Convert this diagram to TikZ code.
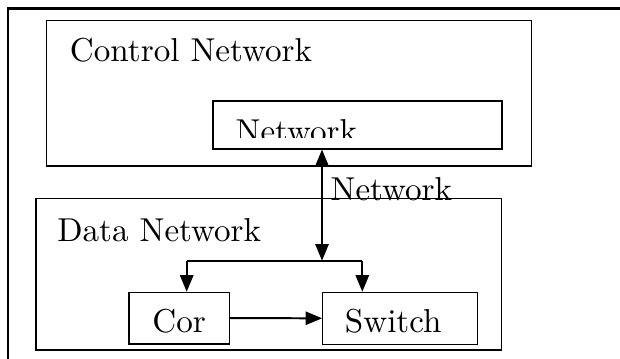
\documentclass[tikz,border=0pt]{standalone}
\usetikzlibrary{fit,arrows.meta}
\tikzset{
  box/.style={draw, line width=0.33pt, inner sep=0pt, rectangle},
  frame/.style={line width=0.8pt},
  arr/.style={line width=0.6pt, -{Triangle[length=5pt,width=4pt]}},
  biarr/.style={line width=0.6pt, {Triangle[length=5pt,width=4pt]}-{Triangle[length=5pt,width=4pt]}},
  lbl/.style={anchor=base west, inner sep=0pt},
}
\begin{document}
\begin{tikzpicture}[x=0.302pt, y=-0.302pt]
\useasboundingbox (0,0) rectangle (620,359);
% outer frame (partially visible)
\coordinate (fbl) at (8,359);
\coordinate (ftl) at (8,8.5);
\coordinate (ftr) at (620,8.5);
\draw[frame] (fbl) -- (ftl) -- (ftr);
% control network
\node[box, fit={(46.7,20.7) (531.7,166)}] (ctrl) {};
\node[lbl] (ctrltext) at (69.3,61.7) {Control Network};
\node[box, fit={(213,101) (502,149)}] (netbox) {};
\begin{scope}
  \clip (213,101) rectangle (502,138);
  \node[lbl] (nettext) at (235,143) {Network};
\end{scope}
% data network
\node[box, fit={(36,198.3) (501.7,350)}] (data) {};
\node[lbl] (datatext) at (56.7,241.7) {Data Network};
\node[box, fit={(129,292.3) (229.3,344)}] (cor) {};
\node[lbl] (cortext) at (151.7,333) {Cor};
\node[box, fit={(322.7,292.3) (477.3,344.3)}] (sw) {};
\node[lbl] (swtext) at (344.3,333) {Switch};
% connectors
\coordinate (branch) at (322,260.7);
\coordinate (bl) at (186.7,260.7);
\coordinate (br) at (362.3,260.7);
\draw[biarr] (branch |- netbox.south) -- (branch);
\node[lbl] (linklabel) at (330,201) {Network};
\draw[line width=0.6pt] (bl) -- (br);
\draw[arr] (bl) -- (bl |- cor.north);
\draw[arr] (br) -- (br |- sw.north);
\draw[arr] (cor.east) -- (sw.west);
\end{tikzpicture}
\end{document}
